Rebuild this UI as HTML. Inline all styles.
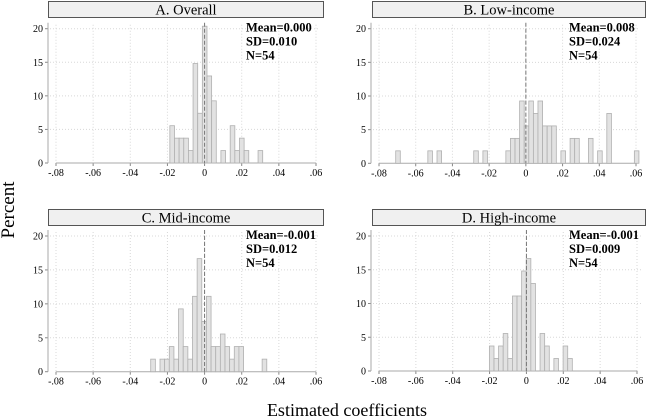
<!DOCTYPE html>
<html><head><meta charset="utf-8"><style>
body{margin:0;background:#fff;}
svg{display:block;font-family:"Liberation Serif",serif;}
</style></head><body>
<svg id="c" width="647" height="420">
<text x="14" y="210" font-size="19" text-anchor="middle" transform="rotate(-90 14 210)">Percent</text>
<text x="347" y="416" font-size="18" text-anchor="middle">Estimated coefficients</text>
</svg>
<script>
const binWidth = 0.0025;
const panelTitles = ["A. Overall","B. Low-income","C. Mid-income","D. High-income"];
const panelStats = [["Mean=0.000","SD=0.010","N=54"],["Mean=0.008","SD=0.024","N=54"],["Mean=-0.001","SD=0.012","N=54"],["Mean=-0.001","SD=0.009","N=54"]];
const binStarts = [-0.0187, -0.0709, -0.029, -0.0201];
// counts per bin index (percent = count/54*100)
const countsA = [3,2,2,2,1,8,4,11,7,5,0,1,0,3,1,2,1,0,0,1];
const countsB = [1,0,0,0,0,0,0,1,0,1,0,0,0,0,0,0,0,1,0,1,0,0,0,0,1,2,2,5,3,5,4,5,3,3,3,0,1,0,2,2,0,0,2,0,1,0,4,0,0,0,0,0,1];
const countsC = [1,0,1,1,2,1,5,2,1,6,9,4,6,2,2,3,2,1,2,2,0,0,0,0,1];
const countsD = [2,1,2,3,1,6,6,8,9,7,0,3,2,0,1,0,2,1];
const allCounts = [countsA,countsB,countsC,countsD];
const nObs = 54;
const xTicks = [-0.08,-0.06,-0.04,-0.02,0,0.02,0.04,0.06];
const xTickLabels = ["-.08","-.06","-.04","-.02","0",".02",".04",".06"];
const yTicks = [0,5,10,15,20];

const NS="http://www.w3.org/2000/svg";
const svg=document.getElementById('c');
function el(t,a,p){const e=document.createElementNS(NS,t);for(const k in a)e.setAttribute(k,a[k]);(p||svg).appendChild(e);return e;}
const layouts=[
 {x0:56,x1:316,yb:163,yt:28.7,ax:48,hx:48,hw:276,hy:1},
 {x0:379,x1:636,yb:163.3,yt:28.7,ax:371,hx:372,hw:274,hy:1},
 {x0:56,x1:316,yb:371.7,yt:236,ax:48,hx:48,hw:276,hy:209},
 {x0:379,x1:637,yb:371,yt:236,ax:371,hx:372,hw:274,hy:209}
];
layouts.forEach((L,p)=>{
 const g=el('g',{});
 
 
 const sx=v=>L.x0+(v+0.08)/0.14*(L.x1-L.x0);
 const sy=v=>L.yb-v/20*(L.yb-L.yt);
 const hb=el('rect',{x:L.hx+0.5,y:L.hy+0.5,width:L.hw-1,height:16,fill:'#f0f0f0',stroke:'#555','stroke-width':1},g);
 
 
 const ht=el('text',{x:L.hx+L.hw/2,y:L.hy+13.5,'font-size':14.5,'text-anchor':'middle'},g);
 ht.textContent=panelTitles[p];
 
 
 yTicks.forEach(t=>{
  if(t>0){const gl=el('line',{x1:L.ax+2,x2:L.x1+4,y1:sy(t),y2:sy(t),stroke:'#d8d8d8','stroke-dasharray':'1 2'},g);
  }
  el('line',{x1:L.ax-3,x2:L.ax,y1:sy(t),y2:sy(t),stroke:'#888'},g);
  const tl=el('text',{x:L.ax-5,y:sy(t)+3.5,'font-size':10,'text-anchor':'end'},g);
  tl.textContent=t;
  
  
 });
 xTicks.forEach((t,i)=>{
  const gl=el('line',{x1:sx(t),x2:sx(t),y1:L.yt-4,y2:L.yb,stroke:'#d8d8d8','stroke-dasharray':'1 2'},g);
  
  el('line',{x1:sx(t),x2:sx(t),y1:L.yb,y2:L.yb+3,stroke:'#888'},g);
  const tl=el('text',{x:sx(t),y:L.yb+13,'font-size':10,'text-anchor':'middle'},g);
  tl.textContent=xTickLabels[i];
  
  
 });
 el('line',{x1:L.ax,x2:L.ax,y1:L.yt-6,y2:L.yb,stroke:'#aaa'},g);
 el('line',{x1:sx(-0.08),x2:sx(0.06),y1:L.yb,y2:L.yb,stroke:'#aaa'},g);
 allCounts[p].forEach((c,i)=>{
  if(!c)return;
  const v0=binStarts[p]+i*binWidth;
  const pct=c/nObs*100;
  const r=el('rect',{x:sx(v0),y:sy(pct),width:sx(v0+binWidth)-sx(v0),height:sy(0)-sy(pct),fill:'#e2e2e2',stroke:'#b0b0b0','stroke-width':0.8},g);
  
  
 });
 const zl=el('line',{x1:sx(0),x2:sx(0),y1:L.yt-6,y2:L.yb,stroke:'#777','stroke-dasharray':'4 2','stroke-width':1},g);
 
 
 panelStats[p].forEach((s,k)=>{
  const st=el('text',{x:L.x0+190,y:L.yt+3+k*14,'font-size':12.5,'font-weight':'bold'},g);
  st.textContent=s;
  
  
 });
});
</script>
</body></html>
